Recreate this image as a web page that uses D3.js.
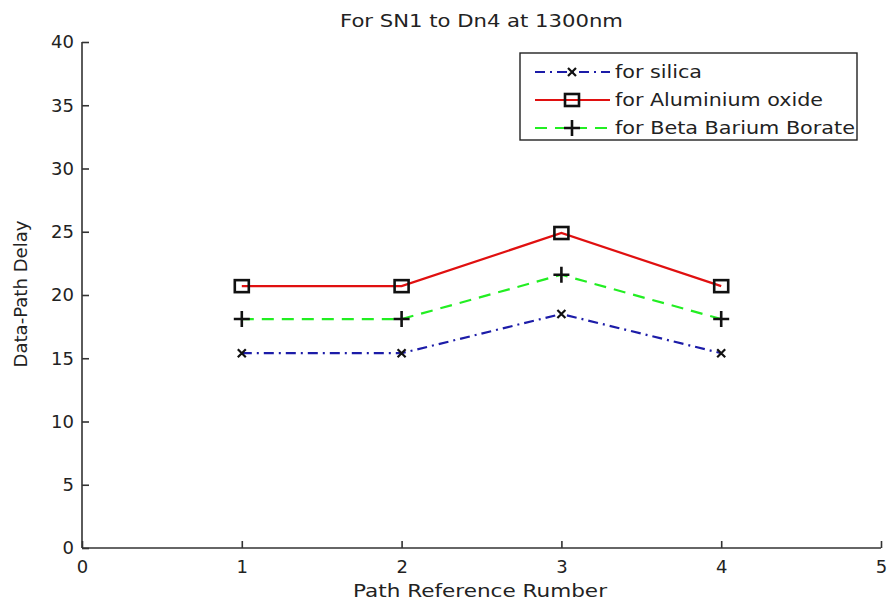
<!DOCTYPE html>
<html>
<head>
<meta charset="utf-8">
<script src="https://cdn.jsdelivr.net/npm/d3@7"></script>
<style>
  html, body { margin: 0; padding: 0; background: #fff; }
  text { font-family: "DejaVu Sans", "Liberation Sans", Arial, sans-serif; fill: #222; }
</style>
</head>
<body>
<svg id="chart" width="889" height="603"></svg>
<script>
const pathRefs = [1, 2, 3, 4];
const silica = [15.4, 15.4, 18.5, 15.4];
const aluminiumOxide = [20.7, 20.7, 24.9, 20.7];
const betaBariumBorate = [18.1, 18.1, 21.6, 18.1];
const xTicks = [0, 1, 2, 3, 4, 5];
const yTicks = [0, 5, 10, 15, 20, 25, 30, 35, 40];
const titleText = "For SN1 to Dn4 at 1300nm";
const xLabel = "Path Reference Rumber";
const yLabel = "Data-Path Delay";
const seriesNames = ["for silica", "for Aluminium oxide", "for Beta Barium Borate"];

const svg = d3.select("#chart");
const margin = {left: 82, right: 8, top: 42, bottom: 55};
const W = 889, H = 603;
const x = d3.scaleLinear().domain([0, 5]).range([margin.left, W - margin.right]);
const y = d3.scaleLinear().domain([0, 40]).range([H - margin.bottom, margin.top]);

const series = [
  {name: seriesNames[0], values: silica, color: "#1c1ca8", dash: "10,5,2,5", marker: "x", tl: 87},
  {name: seriesNames[1], values: aluminiumOxide, color: "#e01010", dash: null, marker: "square", tl: 208},
  {name: seriesNames[2], values: betaBariumBorate, color: "#22ee22", dash: "12,8", marker: "plus", tl: 240}
];

// axes
const axisColor = "#333";
const xAxis = d3.axisBottom(x).tickValues(xTicks).tickSize(-7).tickPadding(12).tickFormat(d3.format("d"));
const yAxis = d3.axisLeft(y).tickValues(yTicks).tickSize(-7).tickPadding(8).tickFormat(d3.format("d"));

const gx = svg.append("g").attr("transform", `translate(0,${y(0)})`).call(xAxis);
const gy = svg.append("g").attr("transform", `translate(${x(0)},0)`).call(yAxis);
[gx, gy].forEach(g => {
  g.select(".domain").attr("stroke", axisColor).attr("stroke-width", 1.6);
  g.selectAll(".tick line").attr("stroke", axisColor).attr("stroke-width", 1.6);
  g.selectAll(".tick text").style("font-size", "18px").style("fill", "#222")
    .style("font-family", '"DejaVu Sans", Arial, sans-serif');
});
gx.select(".domain").attr("d", `M${x(0)},0H${x(5)}`);
gy.select(".domain").attr("d", `M0,${y(0)}V${y(40)}`);
gx.selectAll(".tick text").attr("dy", "0.71em");

// title & labels
svg.append("text").attr("x", (x(0) + x(5)) / 2).attr("y", 27)
  .attr("text-anchor", "middle").style("font-size", "17px")
  .attr("textLength", 283).attr("lengthAdjust", "spacingAndGlyphs").text(titleText);
svg.append("text").attr("x", 480).attr("y", 597)
  .attr("text-anchor", "middle").style("font-size", "17px")
  .attr("textLength", 254).attr("lengthAdjust", "spacingAndGlyphs").text(xLabel);
svg.append("text").attr("transform", `translate(27,294) rotate(-90)`)
  .attr("text-anchor", "middle").style("font-size", "17px")
  .attr("textLength", 147).attr("lengthAdjust", "spacingAndGlyphs").text(yLabel);

function drawMarker(g, type, cx, cy) {
  if (type === "square") {
    g.append("rect").attr("x", cx - 7).attr("y", cy - 6).attr("width", 14).attr("height", 12)
      .attr("fill", "none").attr("stroke", "#111").attr("stroke-width", 2.6);
  } else if (type === "plus") {
    g.append("path").attr("d", `M${cx - 8},${cy}H${cx + 8}M${cx},${cy - 8}V${cy + 8}`)
      .attr("stroke", "#111").attr("stroke-width", 2.6);
  } else if (type === "x") {
    g.append("path").attr("d", `M${cx - 4},${cy - 4}L${cx + 4},${cy + 4}M${cx - 4},${cy + 4}L${cx + 4},${cy - 4}`)
      .attr("stroke", "#111").attr("stroke-width", 2.2);
  }
}

const line = d3.line().x((d, i) => x(pathRefs[i])).y(d => y(d));
series.forEach(s => {
  const g = svg.append("g");
  g.append("path").datum(s.values).attr("d", line).attr("fill", "none")
    .attr("stroke", s.color).attr("stroke-width", 2.2)
    .attr("stroke-dasharray", s.dash);
  s.values.forEach((v, i) => drawMarker(g, s.marker, x(pathRefs[i]), y(v)));
});

// legend
const lg = svg.append("g");
lg.append("rect").attr("x", 520).attr("y", 53).attr("width", 337).attr("height", 87)
  .attr("fill", "#fff").attr("stroke", "#222").attr("stroke-width", 1.4);
const rowY = [72, 100, 128];
series.forEach((s, i) => {
  lg.append("line").attr("x1", 535).attr("x2", 610).attr("y1", rowY[i]).attr("y2", rowY[i])
    .attr("stroke", s.color).attr("stroke-width", 2.2).attr("stroke-dasharray", s.dash);
  drawMarker(lg, s.marker, 572, rowY[i]);
  lg.append("text").attr("x", 615).attr("y", rowY[i]).attr("dy", "0.36em")
    .style("font-size", "18px").attr("textLength", s.tl).attr("lengthAdjust", "spacingAndGlyphs")
    .text(s.name);
});
</script>
</body>
</html>
